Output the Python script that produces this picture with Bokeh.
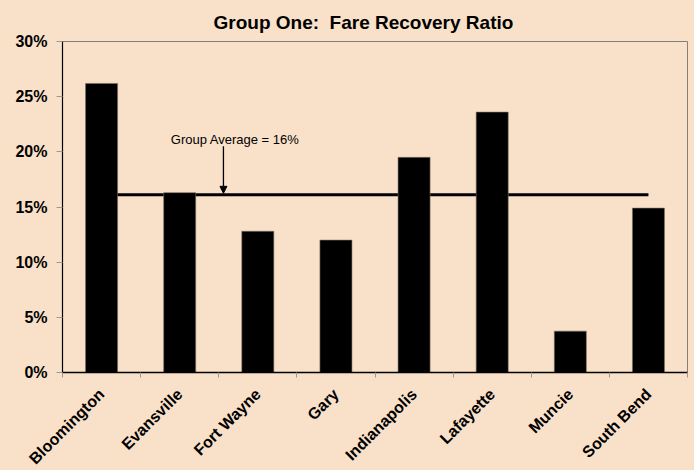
from bokeh.plotting import figure
from bokeh.models import (Range1d, FixedTicker, NumeralTickFormatter, Arrow,
                          NormalHead, Label, GlobalInlineStyleSheet)
from bokeh.embed import file_html
from bokeh.resources import INLINE

# ---- data ----
cities = ["Bloomington", "Evansville", "Fort Wayne", "Gary",
          "Indianapolis", "Lafayette", "Muncie", "South Bend"]
ratios = [0.262, 0.163, 0.128, 0.120, 0.195, 0.236, 0.0375, 0.149]
group_average = 0.161
average_label = "Group Average = 16%"
y_ticks = [0.0, 0.05, 0.10, 0.15, 0.20, 0.25, 0.30]
title_text = "Group One:\u00a0 Fare Recovery Ratio"

BG = "#F9E1C9"
FONT = "Liberation Sans"

xs = [i + 0.5 for i in range(len(cities))]

p = figure(frame_width=625, frame_height=331, output_backend="svg",
           toolbar_location=None,
           x_range=Range1d(0, len(cities)), y_range=Range1d(0, 0.30),
           min_border_left=62, min_border_right=7, min_border_top=41,
           min_border_bottom=98)
p.stylesheets.append(GlobalInlineStyleSheet(
    css=f"html,body{{background:{BG};overflow:hidden;}}"))

p.background_fill_color = BG
p.border_fill_color = BG
p.outline_line_color = "#808080"
p.outline_line_width = 1
p.grid.visible = False

p.title.text = title_text
p.title.align = "left"
p.title.offset = 151
p.title.standoff = 17
p.title.text_font = FONT
p.title.text_font_size = "19px"
p.title.text_font_style = "bold"
p.title.text_color = "black"

# average line (from first to last category centre)
p.line(x=[xs[0], xs[-1]], y=[group_average, group_average],
       line_color="black", line_width=3)

# bars
p.vbar(x=xs, top=ratios, width=0.41, fill_color="black",
       line_color="#7a6e62", line_width=0.6)

# annotation
ax = 2.06
p.add_layout(Arrow(end=NormalHead(size=7, fill_color="black", line_color="black"),
                   x_start=ax, y_start=0.205, x_end=ax, y_end=group_average + 0.0014,
                   line_color="black", line_width=1.3))
p.add_layout(Label(x=2.21, y=0.211, text=average_label, text_align="center",
                   text_baseline="alphabetic", text_font=FONT,
                   text_font_size="13px", text_color="black"))

# x axis
xa = p.xaxis[0]
xa.ticker = FixedTicker(ticks=xs, minor_ticks=list(range(len(cities) + 1)))
xa.major_label_overrides = {x: c for x, c in zip(xs, cities)}
xa.major_label_orientation = 0.785398
xa.major_tick_line_color = None
xa.major_tick_out = 5
xa.major_tick_in = 0
xa.minor_tick_line_color = "#a09890"
xa.minor_tick_out = 5
xa.minor_tick_in = 0
xa.major_label_standoff = 14
xa.axis_line_color = "black"
xa.axis_line_width = 1.5
xa.major_label_text_font = FONT
xa.major_label_text_font_size = "16px"
xa.major_label_text_font_style = "bold"
xa.major_label_text_color = "black"

# y axis
ya = p.yaxis[0]
ya.ticker = FixedTicker(ticks=y_ticks)
ya.formatter = NumeralTickFormatter(format="0%")
ya.major_tick_line_color = "#a09890"
ya.major_tick_out = 6
ya.major_tick_in = 0
ya.minor_tick_line_color = None
ya.major_label_standoff = 9
ya.axis_line_color = "black"
ya.axis_line_width = 1.2
ya.major_label_text_font = FONT
ya.major_label_text_font_size = "16px"
ya.major_label_text_font_style = "bold"
ya.major_label_text_color = "black"

open("out.html", "w").write(file_html(p, INLINE))
